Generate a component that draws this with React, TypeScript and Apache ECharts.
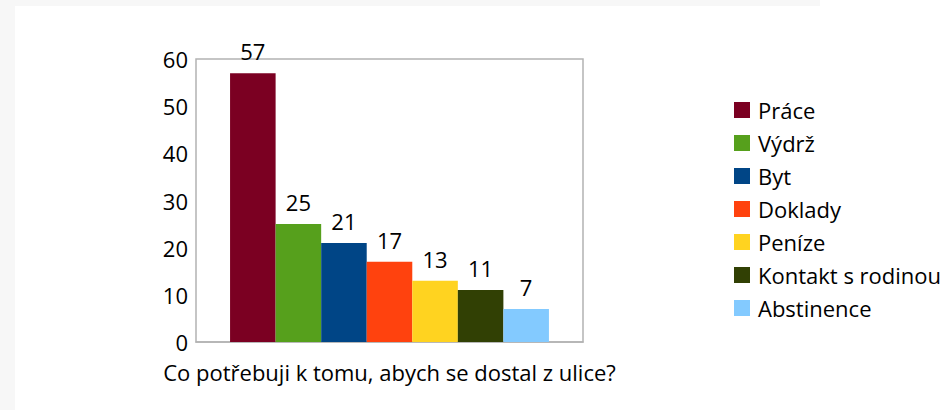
import React, { useEffect, useRef } from "react";
import * as echarts from "echarts";

const seriesNames = ["Práce", "Výdrž", "Byt", "Doklady", "Peníze", "Kontakt s rodinou", "Abstinence"];
const seriesValues = [57, 25, 21, 17, 13, 11, 7];
const seriesColors = ["#7B0022", "#56A01C", "#004586", "#FF420E", "#FFD320", "#314004", "#83CAFF"];
const categories = [""];
const xAxisTitle = "Co potřebuji k tomu, abych se dostal z ulice?";
const yMin = 0;
const yMax = 60;
const yInterval = 10;

const FONT = "'Open Sans', 'Noto Sans', sans-serif";
const FS = 22;

export default function App() {
  const ref = useRef<HTMLDivElement>(null);
  useEffect(() => {
    document.body.style.margin = "0";
    if (!ref.current) return;
    const chart = echarts.init(ref.current, undefined, { renderer: "svg" });
    chart.setOption({
      animation: false,
      backgroundColor: "#ffffff",
      textStyle: { fontFamily: FONT },
      graphic: [
        { type: "rect", left: 0, top: 0, shape: { width: 15, height: 410 }, style: { fill: "#f7f7f7" }, silent: true, z: -10 },
        { type: "rect", left: 0, top: 0, shape: { width: 820, height: 6 }, style: { fill: "#f7f7f7" }, silent: true, z: -10 },
      ],
      grid: {
        left: 196,
        top: 59,
        width: 387,
        height: 283,
        show: true,
        borderColor: "#b3b3b3",
        borderWidth: 1.5,
        backgroundColor: "transparent",
      },
      legend: {
        orient: "vertical",
        left: 729,
        top: 94,
        itemWidth: 16,
        itemHeight: 16,
        itemGap: 11,
        icon: "rect",
        data: seriesNames,
        textStyle: { fontFamily: FONT, fontSize: FS, color: "#000", padding: [0, 0, 0, 3] },
      },
      xAxis: {
        type: "category",
        data: categories,
        axisTick: { show: false },
        axisLabel: { show: false },
        axisLine: { show: true, lineStyle: { color: "#b3b3b3", width: 1.5 } },
        name: xAxisTitle,
        nameLocation: "middle",
        nameGap: 19,
        nameTextStyle: { fontFamily: FONT, fontSize: FS, color: "#000" },
      },
      yAxis: {
        type: "value",
        min: yMin,
        max: yMax,
        interval: yInterval,
        splitLine: { show: false },
        axisLine: { show: false },
        axisTick: { show: false },
        axisLabel: { fontFamily: FONT, fontSize: FS, color: "#000", margin: 8 },
      },
      series: seriesNames.map((name, i) => ({
        name,
        type: "bar",
        data: [seriesValues[i]],
        barGap: "0%",
        barCategoryGap: "17.6%",
        itemStyle: { color: seriesColors[i] },
        label: {
          show: true,
          position: "top",
          distance: 11,
          fontFamily: FONT,
          fontSize: FS,
          color: "#000",
        },
      })),
    });
    return () => chart.dispose();
  }, []);
  return <div ref={ref} style={{ width: 946, height: 410 }} />;
}
